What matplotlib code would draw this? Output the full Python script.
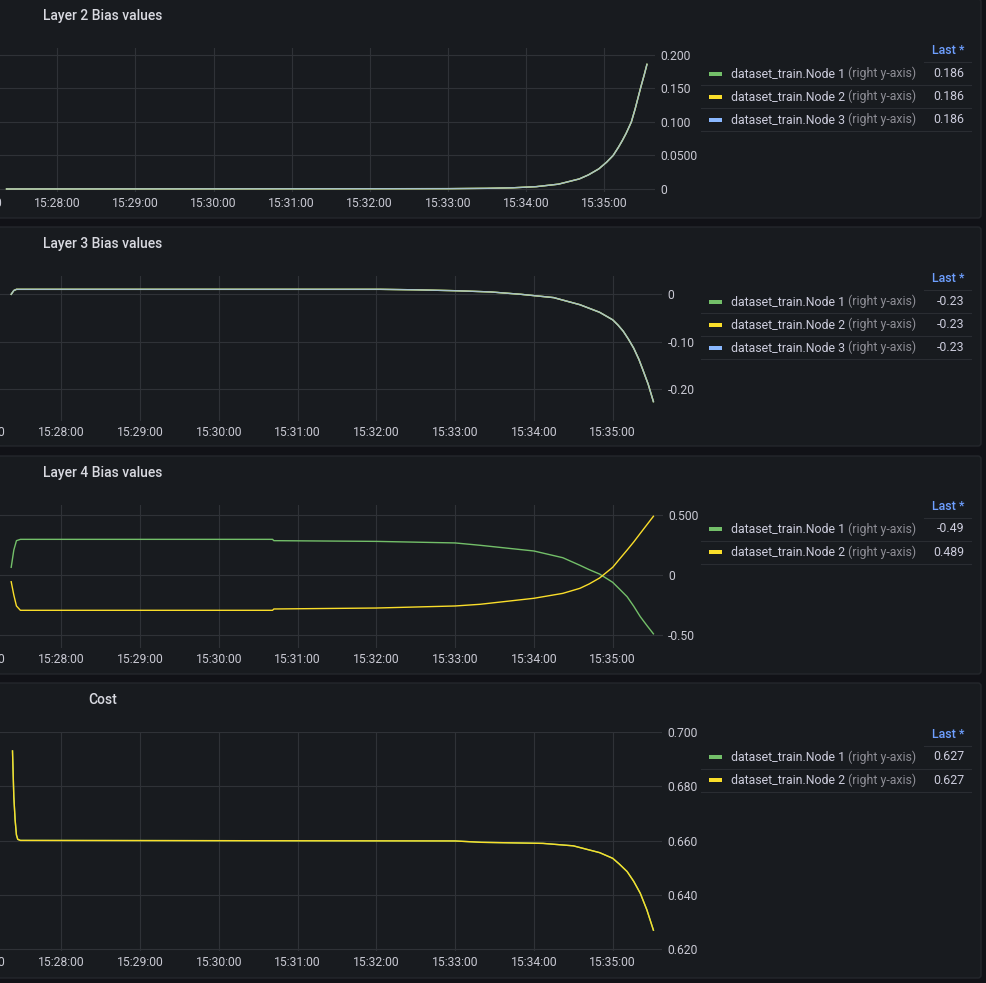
import numpy as np
import matplotlib
matplotlib.use("Agg")
import matplotlib.pyplot as plt
import matplotlib.dates as mdates
from matplotlib.patches import FancyBboxPatch, Rectangle

plt.rcParams['font.family'] = ['Roboto', 'DejaVu Sans']

W, H = 986, 983
DAY = '2022-01-01T'

GREEN = '#73bf69'
YELLOW = '#fade2a'
BLUE = '#8ab8ff'

# ---- data ----
# Layer 2 bias (all three nodes identical)
l2_time = ['15:27:21', '15:33:00', '15:33:30', '15:33:50', '15:34:08', '15:34:25',
           '15:34:41', '15:34:48', '15:34:56', '15:35:02', '15:35:07', '15:35:11', '15:35:14',
           '15:35:17', '15:35:21', '15:35:24', '15:35:28', '15:35:31', '15:35:33']
l2_vals = [0.0, 0.0005, 0.001, 0.0018, 0.0035, 0.0072,
           0.015, 0.021, 0.030, 0.040, 0.050, 0.062, 0.072,
           0.083, 0.100, 0.120, 0.150, 0.171, 0.186]

# Layer 3 bias (all three nodes identical)
l3_time = ['15:27:22', '15:27:24', '15:27:26', '15:32:03', '15:32:30', '15:33:00', '15:33:27',
           '15:33:50', '15:34:15', '15:34:35', '15:34:50', '15:35:00', '15:35:04', '15:35:08',
           '15:35:12', '15:35:16', '15:35:20', '15:35:23', '15:35:27', '15:35:31']
l3_vals = [0.0, 0.008, 0.0105, 0.0105, 0.0095, 0.0076, 0.005,
           0.0, -0.007, -0.022, -0.038, -0.054, -0.065, -0.078,
           -0.095, -0.114, -0.138, -0.160, -0.190, -0.227]

# Layer 4 bias
l4_time = ['15:27:22', '15:27:24', '15:27:26', '15:27:29', '15:30:41', '15:30:42', '15:32:00',
           '15:33:00', '15:33:19', '15:34:00', '15:34:22', '15:34:35', '15:34:42', '15:34:50',
           '15:35:00', '15:35:05', '15:35:11', '15:35:16', '15:35:21', '15:35:26', '15:35:31']
l4_node1 = [0.064, 0.208, 0.286, 0.297, 0.297, 0.286, 0.280,
            0.267, 0.2475, 0.200, 0.144, 0.081, 0.045, 0.008,
            -0.061, -0.115, -0.181, -0.260, -0.347, -0.420, -0.49]
l4_node2 = [-0.056, -0.167, -0.258, -0.294, -0.294, -0.283, -0.275,
            -0.258, -0.244, -0.194, -0.153, -0.111, -0.075, -0.025,
            0.064, 0.130, 0.208, 0.275, 0.347, 0.418, 0.489]

# Cost (both nodes identical)
cost_time = ['15:27:23', '15:27:24', '15:27:25', '15:27:26', '15:27:27', '15:27:29',
             '15:33:00', '15:33:20', '15:34:07', '15:34:30', '15:34:50', '15:35:00',
             '15:35:05', '15:35:11', '15:35:16', '15:35:21', '15:35:26', '15:35:31']
cost_vals = [0.6931, 0.6762, 0.6676, 0.6621, 0.6605, 0.6601,
             0.6599, 0.6594, 0.6590, 0.6581, 0.6556, 0.6535,
             0.6514, 0.6486, 0.6450, 0.6406, 0.6345, 0.6270]

titles = ['Layer 2 Bias values', 'Layer 3 Bias values', 'Layer 4 Bias values', 'Cost']
l2_ticks, l2_labels = [0, 0.05, 0.1, 0.15, 0.2], ['0', '0.0500', '0.100', '0.150', '0.200']
l3_ticks, l3_labels = [0, -0.1, -0.2], ['0', '-0.10', '-0.20']
l4_ticks, l4_labels = [0.5, 0, -0.5], ['0.500', '0', '-0.50']
cost_ticks, cost_labels = [0.62, 0.64, 0.66, 0.68, 0.70], ['0.620', '0.640', '0.660', '0.680', '0.700']

names3 = ['dataset_train.Node 1', 'dataset_train.Node 2', 'dataset_train.Node 3']
names2 = ['dataset_train.Node 1', 'dataset_train.Node 2']
l2_last = ['0.186', '0.186', '0.186']
l3_last = ['-0.23', '-0.23', '-0.23']
l4_last = ['-0.49', '0.489']
cost_last = ['0.627', '0.627']


def to_t(lst):
    return np.array([np.datetime64(DAY + s) for s in lst])


fig = plt.figure(figsize=(W / 100, H / 100), dpi=100, facecolor='#111217')

# background layer in pixel coordinates
bg = fig.add_axes([0, 0, 1, 1])
bg.set_xlim(0, W)
bg.set_ylim(H, 0)
bg.axis('off')
bg.patch.set_visible(False)

panels = [(-1, 218), (227, 446), (456, 674), (683, 978)]
for top, bot in panels:
    bg.add_patch(FancyBboxPatch((-20, top), 1001, bot - top,
                                boxstyle='round,pad=0,rounding_size=3',
                                facecolor='#181b1f', edgecolor='#24272c', linewidth=1))

TXT = '#ccccdc'
LFS = 8.95
for (top, bot), t in zip(panels, titles):
    bg.text(103, top + 17, t, ha='center', va='center', fontsize=10,
            fontweight='medium', color='#d8d9e0')

legends = [(50.7, names3, l2_last, [GREEN, YELLOW, BLUE]),
           (278.5, names3, l3_last, [GREEN, YELLOW, BLUE]),
           (506, names2, l4_last, [GREEN, YELLOW]),
           (734, names2, cost_last, [GREEN, YELLOW])]
for y0, names, lasts, cols in legends:
    bg.text(964, y0, 'Last *', ha='right', va='center', fontsize=LFS,
            fontweight='medium', color='#6e9fff')
    bg.plot([924, 971], [y0 + 11.5, y0 + 11.5], color='#2a2d32', lw=0.8)
    for i, (n, v, c) in enumerate(zip(names, lasts, cols)):
        yy = y0 + 23 * (i + 1)
        bg.add_patch(Rectangle((709, yy - 2), 13, 4, facecolor=c, edgecolor='none'))
        t1 = bg.text(731, yy, n, ha='left', va='center', fontsize=LFS, color=TXT)
        bg.annotate(' (right y-axis)', xy=(1, 0.5), xycoords=t1, ha='left', va='center',
                    fontsize=LFS, color='#8e8e96')
        bg.text(964, yy, v, ha='right', va='center', fontsize=LFS, color=TXT)
        bg.plot([701, 971], [yy + 11.5, yy + 11.5], color='#2a2d32', lw=0.8)

# plot axes: (top, bottom, right, x of 15:35, px per minute)
geo = [(48, 192, 655, 604.0, 78.1),
       (276, 421, 662, 612.7, 78.8),
       (505, 648, 662.7, 612.7, 78.8),
       (732, 951, 661.7, 612.7, 78.8)]
ylims = [(-0.0045, 0.2104), (-0.268, 0.0387), (-0.608, 0.583), (0.6193, 0.7001)]
yticks = [(l2_ticks, l2_labels), (l3_ticks, l3_labels), (l4_ticks, l4_labels),
          (cost_ticks, cost_labels)]

ref = mdates.date2num(np.datetime64(DAY + '15:35:00'))
LEFT = -200
axes = []
for (top, bot, right, x35, ppm), yl, (tk, lb) in zip(geo, ylims, yticks):
    ax = fig.add_axes([LEFT / W, 1 - bot / H, (right - LEFT) / W, (bot - top) / H])
    ax.set_facecolor('none')
    for s in ax.spines.values():
        s.set_visible(False)
    ax.set_xlim(ref + (LEFT - x35) / ppm / 1440, ref + (right - x35) / ppm / 1440)
    ax.set_ylim(*yl)
    ax.xaxis.set_major_locator(mdates.MinuteLocator())
    ax.xaxis.set_major_formatter(mdates.DateFormatter('%H:%M:%S'))
    ax.yaxis.tick_right()
    ax.set_yticks(tk, lb)
    ax.tick_params(length=0, pad=4, labelsize=8.7, colors='#c9c9d3')
    ax.tick_params(axis='x', pad=3.5)
    ax.grid(color='#2f3237', linewidth=0.8)
    ax.set_axisbelow(True)
    axes.append(ax)

LW = 1.0
t2 = to_t(l2_time)
for c, a in [(GREEN, 1), (YELLOW, 1), (BLUE, 0.75)]:
    axes[0].plot(t2, l2_vals, color=c, lw=LW, alpha=a)
t3 = to_t(l3_time)
for c, a in [(GREEN, 1), (YELLOW, 1), (BLUE, 0.75)]:
    axes[1].plot(t3, l3_vals, color=c, lw=LW, alpha=a)
t4 = to_t(l4_time)
axes[2].plot(t4, l4_node1, color=GREEN, lw=LW)
axes[2].plot(t4, l4_node2, color=YELLOW, lw=LW)
tc = to_t(cost_time)
axes[3].plot(tc, cost_vals, color=GREEN, lw=LW)
axes[3].plot(tc, cost_vals, color=YELLOW, lw=LW)

fig.savefig('out.png', dpi=100, facecolor=fig.get_facecolor())
